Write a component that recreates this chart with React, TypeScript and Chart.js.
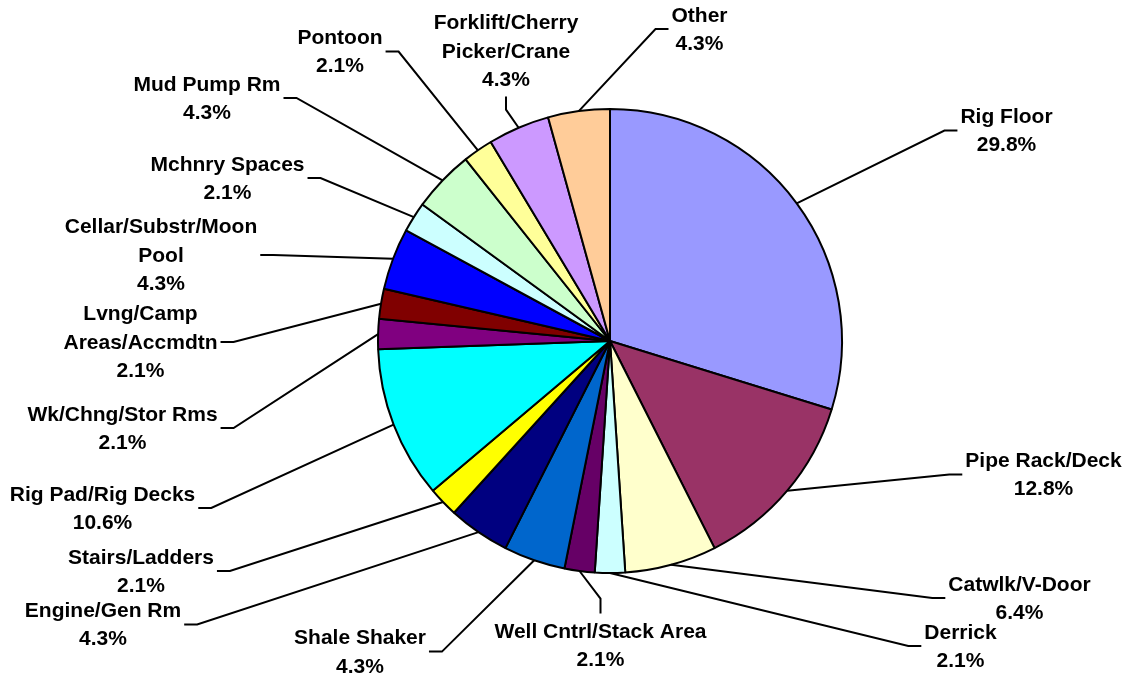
import React, { useEffect, useRef } from "react";
import { Chart, registerables } from "chart.js";

Chart.register(...registerables);

const CATEGORIES: string[] = [
  "Rig Floor",
  "Pipe Rack/Deck",
  "Catwlk/V-Door",
  "Derrick",
  "Well Cntrl/Stack Area",
  "Shale Shaker",
  "Engine/Gen Rm",
  "Stairs/Ladders",
  "Rig Pad/Rig Decks",
  "Wk/Chng/Stor Rms",
  "Lvng/Camp Areas/Accmdtn",
  "Cellar/Substr/Moon Pool",
  "Mchnry Spaces",
  "Mud Pump Rm",
  "Pontoon",
  "Forklift/Cherry Picker/Crane",
  "Other",
];

const PERCENTS: number[] = [29.8, 12.8, 6.4, 2.1, 2.1, 4.3, 4.3, 2.1, 10.6, 2.1, 2.1, 4.3, 2.1, 4.3, 2.1, 4.3, 4.3];

const COLORS: string[] = [
  "#9999FF", "#993366", "#FFFFCC", "#CCFFFF", "#660066", "#0066CC", "#000080", "#FFFF00",
  "#00FFFF", "#800080", "#800000", "#0000FF", "#CCFFFF", "#CCFFCC", "#FFFF99", "#CC99FF", "#FFCC99",
];

// Label layout: offset of label block centre from pie centre, side where leader attaches,
// and number of words on the first line of the name (0 = no wrap).
type Side = "L" | "R" | "T" | "B";
const LABEL_DX: number[] = [396.5, 433.5, 409.5, 350.5, -9.5, -250, -507, -469, -507.5, -487.5, -469.5, -449, -382.5, -403, -270, -104, 89.5];
const LABEL_DY: number[] = [-210.5, 133.5, 257, 305, 304, 310.6, 283.5, 230, 167, 87, 1, -86, -163, -243, -289.5, -290, -312];
const LABEL_SIDE: Side[] = ["L", "L", "L", "L", "T", "R", "R", "R", "R", "R", "R", "R", "R", "R", "R", "B", "L"];
const LABEL_BREAK: number[] = [0, 0, 0, 0, 0, 0, 0, 0, 0, 0, 1, 1, 0, 0, 0, 1, 0];

const FONT = 'bold 21px "Liberation Sans", Arial, sans-serif';
const LINE_H = 28.4;

const labelPlugin = {
  id: "outerLabels",
  afterDatasetsDraw(chart: any) {
    const ctx: CanvasRenderingContext2D = chart.ctx;
    const meta = chart.getDatasetMeta(0);
    ctx.save();
    ctx.font = FONT;
    ctx.fillStyle = "#000";
    ctx.strokeStyle = "#000";
    ctx.lineWidth = 2;
    ctx.textAlign = "center";
    ctx.textBaseline = "middle";
    meta.data.forEach((arc: any, i: number) => {
      const { x, y, startAngle, endAngle, outerRadius } = arc.getProps(
        ["x", "y", "startAngle", "endAngle", "outerRadius"],
        true
      );
      const mid = (startAngle + endAngle) / 2;
      const px = x + Math.cos(mid) * outerRadius;
      const py = y + Math.sin(mid) * outerRadius;

      const words = CATEGORIES[i].split(" ");
      const lines: string[] = [];
      if (LABEL_BREAK[i] > 0) {
        lines.push(words.slice(0, LABEL_BREAK[i]).join(" "));
        lines.push(words.slice(LABEL_BREAK[i]).join(" "));
      } else {
        lines.push(CATEGORIES[i]);
      }
      lines.push(PERCENTS[i].toFixed(1) + "%");

      const cx = x + LABEL_DX[i];
      const cy = y + LABEL_DY[i];
      const w = Math.max(...lines.map((l) => ctx.measureText(l).width));
      const h = lines.length * LINE_H;

      let ex = 0, ey = 0, bx = 0, by = 0;
      const side = LABEL_SIDE[i];
      if (side === "L") {
        ex = cx - w / 2 - 3; ey = cy; bx = ex - 13; by = ey;
      } else if (side === "R") {
        ex = cx + w / 2 + 3; ey = cy; bx = ex + 13; by = ey;
      } else if (side === "T") {
        ex = cx; ey = cy - h / 2 - 3; bx = ex; by = ey - 15;
      } else {
        ex = cx; ey = cy + h / 2 + 3; bx = ex; by = ey + 13;
      }
      ctx.beginPath();
      ctx.moveTo(px, py);
      ctx.lineTo(bx, by);
      ctx.lineTo(ex, ey);
      ctx.stroke();

      lines.forEach((l, k) => {
        ctx.fillText(l, cx, cy - h / 2 + LINE_H * (k + 0.5) + 1);
      });
    });
    ctx.restore();
  },
};

export default function App() {
  const ref = useRef<HTMLCanvasElement | null>(null);
  useEffect(() => {
    if (!ref.current) return;
    const chart = new Chart(ref.current, {
      type: "pie",
      data: {
        labels: CATEGORIES,
        datasets: [
          {
            data: PERCENTS,
            backgroundColor: COLORS,
            borderColor: "#000",
            borderWidth: 2,
          },
        ],
      },
      options: {
        animation: false,
        responsive: true,
        maintainAspectRatio: false,
        layout: { padding: { top: 108, bottom: 103, left: 377, right: 286 } },
        plugins: {
          legend: { display: false },
          tooltip: { enabled: false },
        },
      },
      plugins: [labelPlugin],
    });
    return () => chart.destroy();
  }, []);
  return (
    <div style={{ position: "absolute", left: 0, top: 0, width: 1129, height: 677, background: "#fff" }}>
      <canvas ref={ref} />
    </div>
  );
}
